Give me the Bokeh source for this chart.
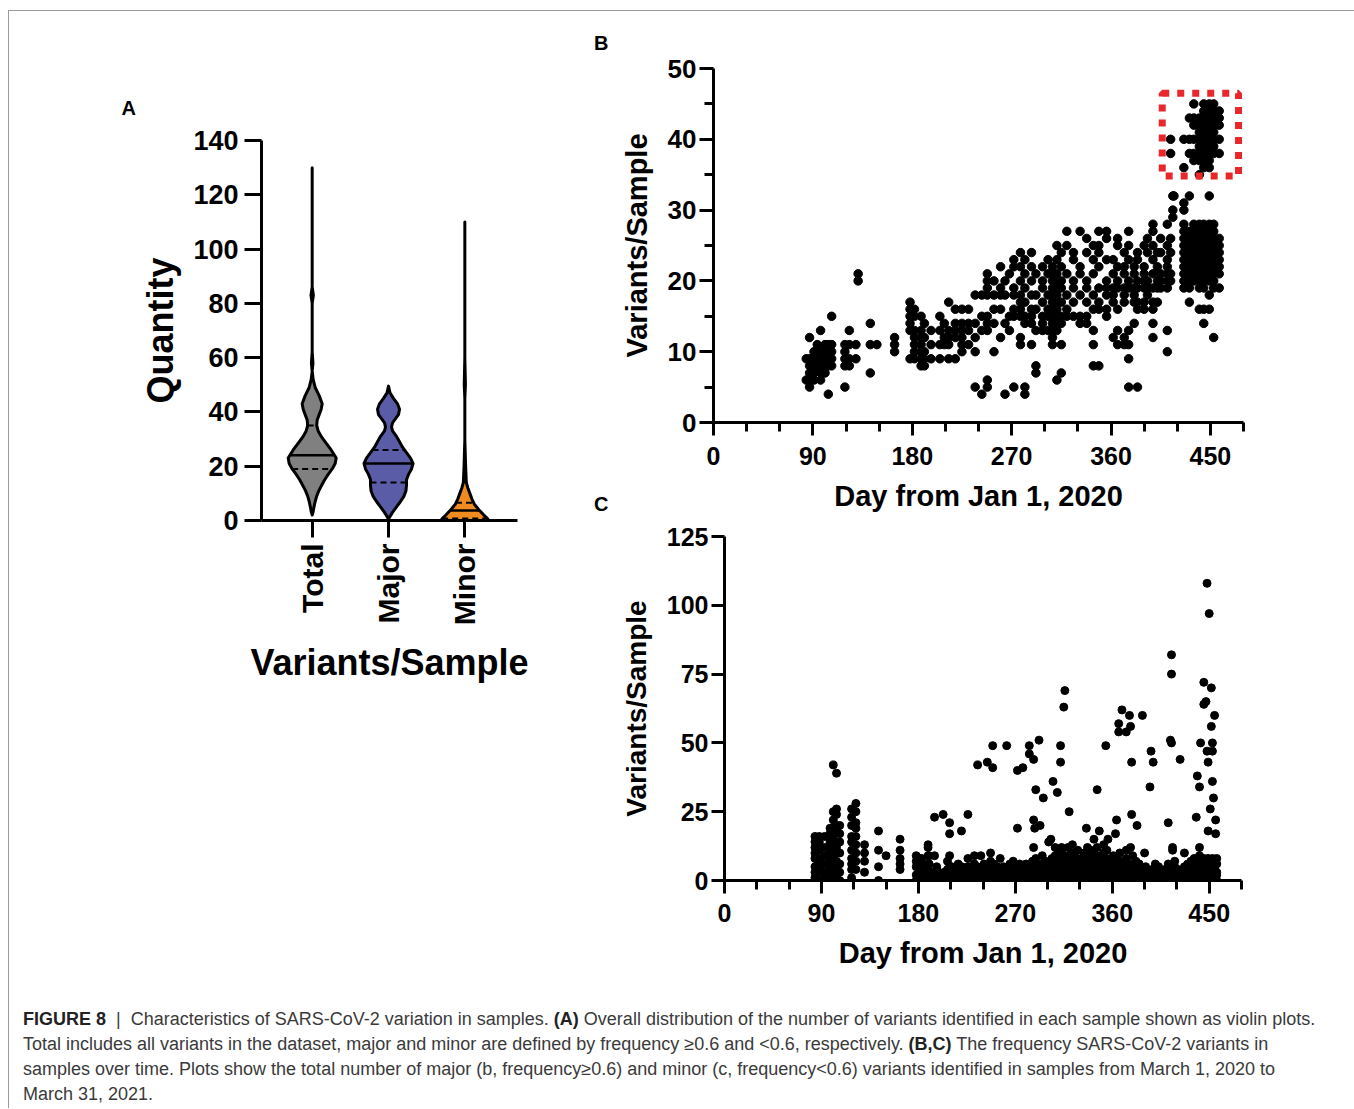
import numpy as np
from bokeh.plotting import figure
from bokeh.models import FixedTicker, BoxAnnotation, Div
from bokeh.layouts import row, column
from bokeh.embed import file_html
from bokeh.resources import INLINE

# ---------------- data ----------------
violin_categories = ["Total", "Major", "Minor"]
violin_colors = ["#808080", "#5a5ca8", "#f28b1f"]

total_y = [130, 86, 83, 80, 62, 58, 55, 52, 49, 46, 43, 41, 39, 37, 35, 33, 31, 29, 26, 23, 21, 19, 17, 15, 13, 11, 9, 7, 5, 3, 2]
total_w = [0, 0, 1.2, 0, 0, 0.8, 0, 1, 3, 7, 10, 9, 7, 5, 4.5, 6, 9, 13, 19, 24, 23, 20, 16, 12.5, 9.5, 6.7, 4.5, 3, 1.8, 0.8, 0]
major_y = [49.5, 47, 45, 43, 41, 39, 37.5, 36, 34.5, 33, 31, 29, 27, 25, 23, 21, 19, 17, 15, 13, 11, 9, 7, 5, 3, 1.5, 0.5]
major_w = [0, 1.5, 5, 9, 11, 10, 7, 4, 3, 4, 8, 11, 14, 18, 22, 24.5, 23, 20, 18, 18, 17.5, 15.5, 12, 8, 4, 1.5, 0]
minor_y = [110, 60, 50, 45, 30, 20, 14, 12, 10, 8, 6, 4, 2, 1, 0]
minor_w = [0, 0, 0.6, 0, 0, 0.8, 1.5, 3, 5, 7, 9.5, 14, 19, 22, 24]
violin_median = [24, 21, 3.7]
violin_q1 = [19, 14, 0.7]
violin_q3 = [35, 26, 6.5]

# Panel B: major variants per sample (day -> values)
b_days = [84, 87, 91, 94, 97, 101, 104, 107, 119, 123, 129, 131, 142, 148, 164,
          178, 182, 188, 191, 197, 205, 209, 213, 219, 225, 231, 237, 243, 248, 254,
          260, 264, 268, 272, 278, 282, 288, 292, 298, 303, 307, 311, 315, 320, 326,
          332, 338, 344, 349, 356, 362, 366, 372, 376, 381, 384, 390, 393, 398, 402,
          405, 411, 414, 416, 417, 426, 431, 435, 440, 444, 449, 453, 458]
b_vals = [[9, 6], [12, 9, 8, 7, 6, 5], [10, 9, 8, 7, 6], [9, 8, 11], [13, 10, 9, 8, 7, 6],
          [11, 10, 9, 8, 7], [11, 10, 9, 8, 4], [15, 11, 10, 9, 8], [11, 10, 9, 8, 5],
          [13, 11, 9, 8], [11, 9], [21, 20], [14, 11, 7], [11], [12, 11, 10],
          [17, 16, 15, 14, 13, 9], [16, 15, 13, 12, 11, 10, 9], [15, 13, 12, 11, 10, 9, 8],
          [14, 12, 10, 9, 8], [13, 11, 9], [15, 13, 11, 9], [14, 12, 11], [17, 13, 12, 11, 9],
          [16, 14, 13, 12, 9], [16, 14, 13, 12, 11, 10], [16, 14, 13, 11], [18, 14, 12, 10, 5],
          [18, 15, 13, 4], [21, 20, 19, 18, 15, 14, 13, 6, 5], [20, 18, 16, 14, 10],
          [22, 19, 18, 16, 12], [20, 18, 14, 4], [21, 15, 13], [23, 22, 19, 18, 16, 15, 5],
          [24, 22, 20, 18, 17, 16, 15, 12, 11], [23, 21, 19, 17, 15, 14, 5, 4],
          [24, 22, 20, 18, 16, 15, 14, 11], [21, 18, 16, 13, 8, 7], [22, 20, 19, 17, 15, 14, 13],
          [23, 21, 18, 16, 15, 13], [22, 21, 20, 19, 18, 17, 16, 15, 14, 13, 12, 11],
          [25, 23, 21, 20, 19, 18, 17, 16, 15, 14, 13, 6], [24, 22, 20, 19, 17, 15, 14, 11, 7],
          [27, 25, 21, 18, 16, 15], [24, 23, 20, 19, 17, 15], [27, 22, 21, 18, 15, 14],
          [26, 24, 20, 19, 17, 15, 14], [25, 23, 21, 18, 16, 13, 11, 8],
          [27, 25, 24, 22, 19, 17, 16, 8], [27, 26, 23, 20, 19, 18, 16, 15],
          [23, 21, 19, 18, 17, 12], [26, 25, 22, 20, 19, 16, 13, 11],
          [24, 22, 21, 19, 18, 17, 12, 11], [27, 25, 23, 20, 19, 13, 11, 9, 5],
          [22, 21, 19, 18, 17, 14], [24, 23, 20, 19, 17, 16, 5], [25, 22, 21, 20, 19, 17, 16],
          [26, 24, 20, 19, 18], [28, 27, 25, 23, 21, 19, 17, 16, 14, 12], [24, 22, 20, 19, 17],
          [26, 24, 21, 20, 19], [28, 25, 23, 22, 21, 20, 19, 13, 10], [40, 38, 26, 24, 21, 20],
          [32, 30, 29], [32],
          [40, 36, 31, 30, 28, 27, 26, 25, 24, 23, 22, 21, 20, 19],
          [43, 40, 38, 32, 27, 26, 25, 24, 23, 22, 21, 20, 19, 17],
          [45, 43, 42, 40, 38, 37, 28, 27, 26, 25, 24, 23, 22, 21, 20],
          [43, 42, 41, 40, 39, 38, 37, 35, 28, 27, 26, 25, 24, 23, 22, 21, 20, 19, 16],
          [45, 44, 43, 42, 41, 40, 39, 38, 37, 36, 28, 27, 26, 25, 24, 23, 22, 21, 20, 19, 16, 14],
          [45, 44, 43, 42, 41, 40, 39, 38, 37, 36, 32, 28, 27, 26, 25, 24, 23, 22, 21, 20, 18, 16],
          [45, 44, 43, 42, 41, 40, 39, 38, 28, 27, 26, 25, 24, 23, 22, 21, 20, 19, 12],
          [44, 43, 42, 40, 38, 26, 25, 24, 23, 22, 21, 19]]
b_highlight = dict(left=406.4, right=475.5, bottom=34.8, top=46.5)

# Panel C: minor variants per sample
c_days = [84, 88, 93, 98, 101, 104, 107, 118, 122, 130, 143, 150, 163, 178, 181, 189, 192,
          195, 203, 209, 220, 226, 232,
          180, 183, 186, 190, 193, 197, 200, 204, 207, 211, 214, 217, 220, 223, 226, 229, 232,
          235, 238, 241, 244, 247, 250, 253, 256, 259, 262, 265, 268, 271, 274, 277, 280, 283,
          286, 289, 292, 295, 298, 301, 304, 307, 310, 313, 316, 319, 322, 325, 328, 331, 334,
          337, 340, 343, 346, 349, 352, 355, 358, 361, 364, 367, 370, 373, 376, 379, 382, 385,
          388, 391, 394, 397, 400, 403, 406, 409, 412, 415, 418, 421, 424, 427, 430, 433, 436,
          439, 441, 443, 445, 447, 449, 451, 453, 455, 457]
c_vals = [[16, 14, 12, 10, 8, 5, 3, 1], [16, 14, 11, 8, 7, 5, 3, 0], [16, 12, 9, 6, 3, 1],
          [19, 17, 14, 12, 10, 7, 5, 2], [42, 25, 22, 19, 16, 13, 11, 8, 6, 3, 1],
          [39, 26, 24, 20, 18, 14, 12, 10, 7, 5, 2], [20, 17, 14, 10, 6, 3, 0],
          [26, 23, 20, 16, 14, 11, 8, 6, 4, 1], [28, 25, 21, 19, 16, 13, 10, 7, 4],
          [13, 10, 7, 3], [18, 11, 5, 0], [9], [15, 11, 8, 6, 4], [9, 7, 5, 2, 0], [8, 6, 3, 1],
          [13, 12, 9, 6, 4, 1], [2, 0], [23, 9], [24, 0], [21, 17, 9, 5, 2], [18, 5], [24, 3], [9, 4],
          [0, 2, 5], [1, 3, 6, 8], [0, 4], [1, 2, 6, 9], [0, 3], [1, 4, 5], [0, 2], [0, 1, 3],
          [2, 4, 7], [0, 1, 3, 5], [0, 2, 4], [1, 3, 6], [0, 2, 4, 5], [0, 1, 3], [1, 2, 5, 8],
          [0, 3, 4], [1, 2, 6], [0, 2, 3, 5], [1, 4, 9], [0, 2, 3, 6], [0, 1, 4, 5], [2, 3, 7, 10],
          [0, 1, 4, 6], [1, 2, 3, 5], [0, 2, 4, 8], [0, 1, 3, 5], [1, 2, 4], [0, 3, 5, 6],
          [1, 2, 4, 7], [0, 1, 3, 5], [0, 2, 4, 6], [1, 3, 5], [0, 2, 3, 6], [1, 2, 4, 5],
          [0, 3, 5, 7], [1, 2, 4, 6, 8], [0, 1, 3, 5], [2, 4, 6, 9], [0, 1, 3, 5, 7],
          [1, 2, 4, 6, 14], [0, 2, 3, 5, 8], [1, 3, 4, 6, 9, 12], [0, 2, 5, 7, 10],
          [1, 2, 4, 6, 8, 11], [0, 3, 5, 7, 9], [1, 2, 4, 6, 8, 12], [0, 2, 3, 5, 7, 10],
          [1, 3, 4, 6, 9], [0, 2, 5, 7, 11], [1, 2, 4, 6, 8], [0, 3, 5, 7, 10],
          [1, 2, 4, 6, 9, 12], [0, 2, 3, 5, 8, 11], [1, 3, 4, 6, 7, 10], [0, 2, 5, 8, 12],
          [1, 2, 4, 6, 9], [0, 3, 5, 7, 10, 13], [1, 2, 4, 6, 8, 11], [0, 2, 3, 5, 7],
          [1, 3, 4, 6, 9], [0, 2, 5, 8], [1, 2, 4, 7, 10], [0, 3, 5, 6], [1, 2, 4, 8, 11],
          [0, 2, 3, 6], [1, 3, 5, 9], [0, 2, 4, 7], [1, 2, 3, 6], [0, 1, 4], [1, 2, 5], [0, 3],
          [1, 2, 4], [0, 1, 3, 6], [1, 2, 5], [0, 2, 3], [1, 4], [0, 2, 3, 6], [1, 2, 4],
          [0, 3, 5, 7], [1, 2, 4], [0, 1, 3], [1, 2, 5], [0, 3, 4, 6], [1, 2, 5, 7],
          [0, 2, 3, 6, 8], [1, 3, 4, 7], [0, 2, 5, 6, 9], [1, 3, 4, 7, 8], [0, 2, 3, 5, 6, 8],
          [1, 2, 4, 6, 7], [0, 3, 4, 5, 7, 8], [1, 2, 3, 5, 6], [0, 2, 4, 6, 7, 8],
          [1, 3, 4, 5, 7], [0, 2, 3, 6, 8]]
c_hi_days = [235, 244, 249, 249, 262, 272, 277, 272, 283, 283, 287, 292, 289, 296, 287, 288, 293,
             287, 305, 309, 312, 312, 316, 315, 320, 303, 313, 323, 336, 343, 348, 346, 354, 356,
             364, 363, 366, 369, 366, 373, 376, 377, 388, 378, 378, 383, 396, 398, 395, 415, 415,
             414, 415, 423, 412, 416, 416, 448, 450, 445, 452, 445, 447, 455, 452, 442, 453, 448,
             453, 449, 439, 441, 453, 454, 451, 438, 456, 449, 456, 441, 377, 390, 427]
c_hi_vals = [42, 43, 49, 41, 49, 40, 41, 19, 49, 46, 44, 51, 33, 30, 22, 19, 20,
             12, 36, 32, 49, 43, 69, 63, 25, 15, 12, 13, 19, 15, 18, 33, 49, 15,
             22, 17, 57, 62, 54, 54, 60, 56, 60, 43, 24, 20, 47, 43, 34, 82, 75,
             51, 50, 44, 21, 12, 11, 108, 97, 72, 70, 64, 65, 60, 56, 50, 50, 47,
             47, 43, 38, 34, 36, 30, 26, 23, 22, 18, 17, 12, 12, 10, 10]

a_yticks = [0, 20, 40, 60, 80, 100, 120, 140]
b_xticks = [0, 90, 180, 270, 360, 450]
b_xminor = [30, 60, 120, 150, 210, 240, 300, 330, 390, 420, 480]
b_yticks = [0, 10, 20, 30, 40, 50]
b_yminor = [5, 15, 25, 35, 45]
c_yticks = [0, 25, 50, 75, 100, 125]

# ---------------- helpers ----------------
SANS = "Liberation Sans"


def style_axis(ax, size, tick_out, standoff, minor_out=0):
    ax.axis_line_width = 3
    ax.axis_line_color = "black"
    ax.major_tick_line_width = 3
    ax.major_tick_line_color = "black"
    ax.major_tick_out = tick_out
    ax.major_tick_in = 0
    ax.minor_tick_line_width = 3
    ax.minor_tick_line_color = "black"
    ax.minor_tick_out = minor_out
    ax.minor_tick_in = 0
    ax.major_label_text_font = SANS
    ax.major_label_text_font_size = f"{size}px"
    ax.major_label_text_font_style = "bold"
    ax.major_label_text_color = "black"
    ax.major_label_standoff = standoff


def style_label(ax, text, size, standoff):
    ax.axis_label = text
    ax.axis_label_text_font = SANS
    ax.axis_label_text_font_size = f"{size}px"
    ax.axis_label_text_font_style = "bold"
    ax.axis_label_text_color = "black"
    ax.axis_label_standoff = standoff


def clean(p):
    p.outline_line_color = None
    p.xgrid.grid_line_color = None
    p.ygrid.grid_line_color = None
    p.background_fill_color = "white"
    p.border_fill_color = "white"

# ---------------- Panel A ----------------
pA = figure(frame_width=256, frame_height=380, min_border_left=252, min_border_right=44,
            min_border_top=129, min_border_bottom=471, x_range=(0.336, 3.69), y_range=(0, 140),
            output_backend="svg", toolbar_location=None, frame_align=False)
clean(pA)
style_axis(pA.yaxis[0], 27, 17, 6)
style_axis(pA.xaxis[0], 30, 17, 6)
pA.yaxis.ticker = FixedTicker(ticks=a_yticks)
pA.xaxis.ticker = FixedTicker(ticks=[1, 2, 3])
pA.xaxis.major_label_overrides = {i + 1: c for i, c in enumerate(violin_categories)}
pA.xaxis.major_label_orientation = np.pi / 2
style_label(pA.yaxis[0], "Quantity", 36, 9)
style_label(pA.xaxis[0], "Variants/Sample", 36, 14)
pA.title.text = "A"
pA.title.align = "left"
pA.title.offset = -140
pA.title.standoff = 44
pA.title.text_font = SANS
pA.title.text_font_size = "20px"
pA.title.text_font_style = "bold"
pA.title.text_color = "black"

W_SCALE = 1.0 / 76.3  # density units -> category units
profiles = [(total_y, total_w), (major_y, major_w), (minor_y, minor_w)]
for i, (ys, ws) in enumerate(profiles):
    cx = i + 1
    ys = np.array(ys, float)
    ws = np.array(ws, float) * W_SCALE
    px = np.concatenate([cx + ws, (cx - ws)[::-1]])
    py = np.concatenate([ys, ys[::-1]])
    pA.patch(px, py, fill_color=violin_colors[i], line_color="black", line_width=3,
             line_join="round")
    order = np.argsort(ys)
    for val, dash, lw in [(violin_median[i], "solid", 2.5), (violin_q1[i], "6 4", 2),
                          (violin_q3[i], "6 4", 2)]:
        hw = np.interp(val, ys[order], ws[order])
        pA.line([cx - hw, cx + hw], [val, val], line_color="black", line_width=lw,
                line_dash=dash)

# ---------------- panel letters B, C ----------------
LET_W = 56
letters = Div(text=(
    "<div style=\"position:relative;width:56px;height:970px;"
    "font-family:'Liberation Sans',Arial,sans-serif;font-weight:bold;font-size:20px;"
    "line-height:20px;color:#000;\">"
    "<span style='position:absolute;left:33px;top:22px;'>B</span>"
    "<span style='position:absolute;left:33px;top:483px;'>C</span></div>"),
    width=LET_W, height=980, margin=0)

# ---------------- Panel B ----------------
pB = figure(frame_width=530, frame_height=354, min_border_left=152 - LET_W, min_border_right=110,
            min_border_top=57, min_border_bottom=102, x_range=(0, 480), y_range=(0, 50),
            output_backend="svg", toolbar_location=None, frame_align=False)
clean(pB)
style_axis(pB.yaxis[0], 26, 14, 3, minor_out=9)
style_axis(pB.xaxis[0], 25, 13, 11, minor_out=9)
pB.xaxis.ticker = FixedTicker(ticks=b_xticks, minor_ticks=b_xminor)
pB.yaxis.ticker = FixedTicker(ticks=b_yticks, minor_ticks=b_yminor)
style_label(pB.yaxis[0], "Variants/Sample", 29, 12)
style_label(pB.xaxis[0], "Day from Jan 1, 2020", 29, 12)
bx = [d for d, vs in zip(b_days, b_vals) for _ in vs]
by = [v for vs in b_vals for v in vs]
pB.scatter(bx, by, size=8.5, color="black")
pB.add_layout(BoxAnnotation(**b_highlight, fill_alpha=0, line_color="#e8262b", line_alpha=1,
                            line_width=7, line_dash="7 8"))

# ---------------- Panel C ----------------
pC = figure(frame_width=517, frame_height=344, min_border_left=162 - LET_W, min_border_right=113,
            min_border_top=12, min_border_bottom=111, x_range=(0, 480), y_range=(0, 125),
            output_backend="svg", toolbar_location=None, frame_align=False)
clean(pC)
style_axis(pC.yaxis[0], 25, 13, 3)
style_axis(pC.xaxis[0], 25, 13, 10, minor_out=9)
pC.xaxis.ticker = FixedTicker(ticks=b_xticks, minor_ticks=b_xminor)
pC.yaxis.ticker = FixedTicker(ticks=c_yticks)
style_label(pC.yaxis[0], "Variants/Sample", 28, 12)
style_label(pC.xaxis[0], "Day from Jan 1, 2020", 29, 12)
cx_ = [d for d, vs in zip(c_days, c_vals) for _ in vs] + c_hi_days
cy_ = [v for vs in c_vals for v in vs] + c_hi_vals
pC.scatter(cx_, cy_, size=8, color="black")

# ---------------- caption ----------------
caption = (
    "<div style=\"font-family:'Liberation Sans',Arial,sans-serif;font-size:18px;"
    "line-height:25px;color:#3a3a3a;padding:16px 0 0 14px;white-space:nowrap;\">"
    "<b style='color:#222'>FIGURE 8</b>&nbsp; |&nbsp; Characteristics of SARS-CoV-2 variation in samples. "
    "<b style='color:#222'>(A)</b> Overall distribution of the number of variants identified in each sample shown as violin plots.<br>"
    "Total includes all variants in the dataset, major and minor are defined by frequency &ge;0.6 and &lt;0.6, respectively. "
    "<b style='color:#222'>(B,C)</b> The frequency SARS-CoV-2 variants in<br>"
    "samples over time. Plots show the total number of major (b, frequency&ge;0.6) and minor (c, frequency&lt;0.6) "
    "variants identified in samples from March 1, 2020 to<br>"
    "March 31, 2021.</div>"
)
cap = Div(text=caption, width=1344, height=117, margin=0, styles={"overflow": "hidden"})

root = column(row(pA, letters, column(pB, pC)), cap,
              styles={"border": "1px solid #9b9b9b", "border-bottom": "none",
                      "margin": "10px 0 0 8px"})

open("out.html", "w").write(file_html(root, INLINE))
